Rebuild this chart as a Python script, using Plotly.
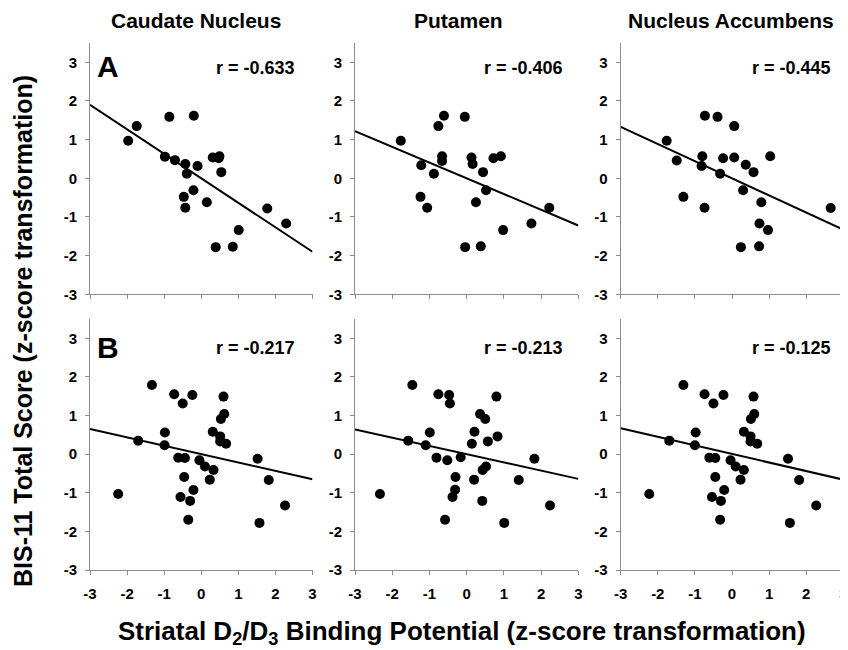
import plotly.graph_objects as go

# ---------------- data ----------------
regions = ["Caudate Nucleus", "Putamen", "Nucleus Accumbens"]
r_A = [-0.633, -0.406, -0.445]
r_B = [-0.217, -0.213, -0.125]
# regression line heights at x = -3 and x = 3, as drawn
fitA_left = [1.90, 1.22, 1.33]
fitA_right = [-1.90, -1.22, -1.33]
fitB_left = [0.65, 0.64, 0.67]
fitB_right = [-0.65, -0.64, -0.66]

caudA_x = [-1.97, -1.74, -0.86, -0.20, -0.98, -0.71, -0.43, -0.39, -0.10, 0.31, 0.49, 0.54,
           -0.21, -0.47, -0.43, 0.15, 0.39, 0.85, 1.01, 1.78, 2.29, 0.47]
caudA_y = [0.97, 1.35, 1.59, 1.62, 0.56, 0.47, 0.37, 0.12, 0.32, 0.54, 0.57, 0.16,
           -0.31, -0.48, -0.76, -0.62, -1.78, -1.77, -1.34, -0.78, -1.17, 0.52]

putA_x = [-1.77, -0.76, -0.61, -0.05, -1.22, -1.24, -1.06, -0.88, -0.66, -0.66, 0.13, 0.16,
          0.44, 0.52, 0.25, 0.72, 0.92, -0.04, 0.38, 0.98, 1.74, 2.22]
putA_y = [0.97, 1.35, 1.62, 1.59, 0.34, -0.48, -0.76, 0.12, 0.57, 0.45, 0.54, 0.37,
          0.16, -0.31, -0.62, 0.52, 0.57, -1.78, -1.76, -1.34, -1.17, -0.76]

naccA_x = [-1.76, -1.49, -1.31, -0.73, -0.39, 0.06, -0.80, -0.82, -0.74, -0.32, -0.24, 0.06,
           0.37, 0.58, 0.30, 0.79, 0.74, 0.97, 0.24, 0.73, 1.03, 2.66]
naccA_y = [0.97, 0.46, -0.48, 1.62, 1.59, 1.35, 0.57, 0.32, -0.76, 0.12, 0.52, 0.54,
           0.35, 0.16, -0.31, -0.62, -1.17, -1.34, -1.78, -1.76, 0.57, -0.77]

caudB_x = [-2.24, -1.70, -1.33, -0.98, -0.99, -0.73, -0.50, -0.24, -0.62, -0.44, -0.46, -0.56,
           -0.30, -0.21, -0.35, -0.05, 0.10, 0.33, 0.23, 0.31, 0.51, 0.51, 0.67, 0.53, 0.62,
           0.60, 1.52, 1.82, 1.57, 2.26]
caudB_y = [-1.03, 0.35, 1.79, 0.56, 0.23, 1.55, 1.31, 1.53, -0.09, -0.10, -0.59, -1.11,
           -1.21, -0.93, -1.70, -0.16, -0.32, -0.41, -0.66, 0.58, 0.46, 0.33, 0.27, 0.91, 1.04,
           1.49, -0.12, -0.67, -1.78, -1.33]

putB_x = [-2.33, -1.46, -1.57, -0.99, -1.10, -0.76, -0.47, -0.45, -0.81, -0.52, -0.16, -0.30,
          -0.31, -0.38, -0.58, 0.14, 0.21, 0.20, 0.43, 0.52, 0.42, 0.36, 0.50, 0.57, 0.80,
          0.83, 1.01, 1.40, 1.82, 2.24]
putB_y = [-1.03, 1.79, 0.35, 0.56, 0.23, 1.55, 1.53, 1.31, -0.09, -0.16, -0.08, -0.59,
          -0.92, -1.11, -1.70, 0.27, 0.58, -0.66, -0.41, -0.32, -1.21, 1.04, 0.91, 0.33, 1.49,
          0.46, -1.78, -0.67, -0.12, -1.33]

naccB_x = [-2.23, -1.69, -1.31, -0.98, -1.00, -0.74, -0.50, -0.23, -0.61, -0.45, -0.45, -0.54,
           -0.30, -0.21, -0.32, -0.04, 0.10, 0.32, 0.23, 0.32, 0.50, 0.50, 0.68, 0.51, 0.60,
           0.58, 1.51, 1.81, 1.56, 2.27]
naccB_y = [-1.03, 0.35, 1.79, 0.56, 0.23, 1.55, 1.31, 1.53, -0.09, -0.10, -0.59, -1.11,
           -1.21, -0.93, -1.70, -0.16, -0.32, -0.41, -0.66, 0.58, 0.46, 0.33, 0.27, 0.91, 1.04,
           1.49, -0.12, -0.67, -1.78, -1.33]

tick_vals = [-3, -2, -1, 0, 1, 2, 3]
tick_text = ["-3", "-2", "-1", "0", "1", "2", "3"]

panels = [
    (caudA_x, caudA_y, r_A[0], fitA_left[0], fitA_right[0]),
    (putA_x, putA_y, r_A[1], fitA_left[1], fitA_right[1]),
    (naccA_x, naccA_y, r_A[2], fitA_left[2], fitA_right[2]),
    (caudB_x, caudB_y, r_B[0], fitB_left[0], fitB_right[0]),
    (putB_x, putB_y, r_B[1], fitB_left[1], fitB_right[1]),
    (naccB_x, naccB_y, r_B[2], fitB_left[2], fitB_right[2]),
]

# ---------------- layout helpers ----------------
# the page body has an 8px margin, so the figure sits at (8, 8) in the window
OFF = 8
W, H = 848 - OFF, 650 - OFF
FONT = "Liberation Sans, Arial, sans-serif"
AX = "#8c8c8c"

def px(x):
    return (x - OFF) / W

def py(y):
    return 1 - (y - OFF) / H

x_dom = [(90, 312.5), (355, 578.3), (620.7, 843.3)]
y_dom = [(43, 294.3), (319, 570)]

fig = go.Figure()
layout = dict(
    width=W, height=H, margin=dict(l=0, r=0, t=0, b=0, pad=0, autoexpand=False),
    paper_bgcolor="white", plot_bgcolor="white", showlegend=False,
    font=dict(family=FONT, color="black"),
)

bold_ticks = [f"<b>{t}</b>" for t in tick_text]

for i, (xs, ys, r, fl, fr) in enumerate(panels):
    n = i + 1
    row, col = divmod(i, 3)
    xa = "x" if n == 1 else f"x{n}"
    ya = "y" if n == 1 else f"y{n}"
    fig.add_trace(go.Scatter(x=xs, y=ys, mode="markers", xaxis=xa, yaxis=ya,
                             marker=dict(color="black", size=10)))
    fig.add_trace(go.Scatter(x=[tick_vals[0], tick_vals[-1]], y=[fl, fr], mode="lines",
                             xaxis=xa, yaxis=ya, line=dict(color="black", width=2)))
    x0, x1 = x_dom[col]
    y0, y1 = y_dom[row]
    layout["xaxis" if n == 1 else f"xaxis{n}"] = dict(
        domain=[px(x0), px(x1)], anchor=ya, range=[-3, 3], automargin=False,
        tickvals=tick_vals, ticktext=bold_ticks, showticklabels=(row == 1),
        ticks="outside", ticklen=4, tickcolor=AX, showline=True, linecolor=AX, linewidth=1,
        showgrid=False, zeroline=False, ticklabelstandoff=6,
        tickfont=dict(family=FONT, size=15, color="black"),
    )
    layout["yaxis" if n == 1 else f"yaxis{n}"] = dict(
        domain=[py(y1), py(y0)], anchor=xa, range=[-3, 3.5], automargin=False,
        tickvals=tick_vals, ticktext=bold_ticks,
        ticks="outside", ticklen=4, tickcolor=AX, showline=True, linecolor=AX, linewidth=1,
        showgrid=False, zeroline=False, ticklabelstandoff=5,
        tickfont=dict(family=FONT, size=15, color="black"),
    )

fig.update_layout(**layout)

ann = []
title_x = [196, 458, 731]
for k, name in enumerate(regions):
    ann.append(dict(text=f"<b>{name}</b>", x=px(title_x[k]), y=py(21), xref="paper",
                    yref="paper", showarrow=False, xanchor="center", yanchor="middle",
                    font=dict(family=FONT, size=21, color="black")))

r_right = [297, 565, 833]
r_y = [68, 348]
for i, p in enumerate(panels):
    r = p[2]
    row, col = divmod(i, 3)
    ann.append(dict(text=f"<b>r = {r:.3f}</b>", x=px(r_right[col]), y=py(r_y[row]),
                    xref="paper", yref="paper", showarrow=False, xanchor="right",
                    yanchor="middle", font=dict(family=FONT, size=18, color="black")))

for lab, yy in (("A", 67), ("B", 348)):
    ann.append(dict(text=f"<b>{lab}</b>", x=px(95), y=py(yy), xref="paper", yref="paper",
                    showarrow=False, xanchor="left", yanchor="middle",
                    font=dict(family=FONT, size=30, color="black")))

ann.append(dict(text="<b>Striatal D<sub>2</sub>/D<sub>3</sub> Binding Potential (z-score transformation)</b>",
                x=px(462), y=py(632), xref="paper", yref="paper", showarrow=False,
                xanchor="center", yanchor="middle",
                font=dict(family=FONT, size=26, color="black")))
ann.append(dict(text="<b>BIS-11 Total Score (z-score transformation)</b>", textangle=-90,
                x=px(23), y=py(331), xref="paper", yref="paper", showarrow=False,
                xanchor="center", yanchor="middle",
                font=dict(family=FONT, size=25, color="black")))

fig.update_layout(annotations=ann)
fig.write_html("out.html")
